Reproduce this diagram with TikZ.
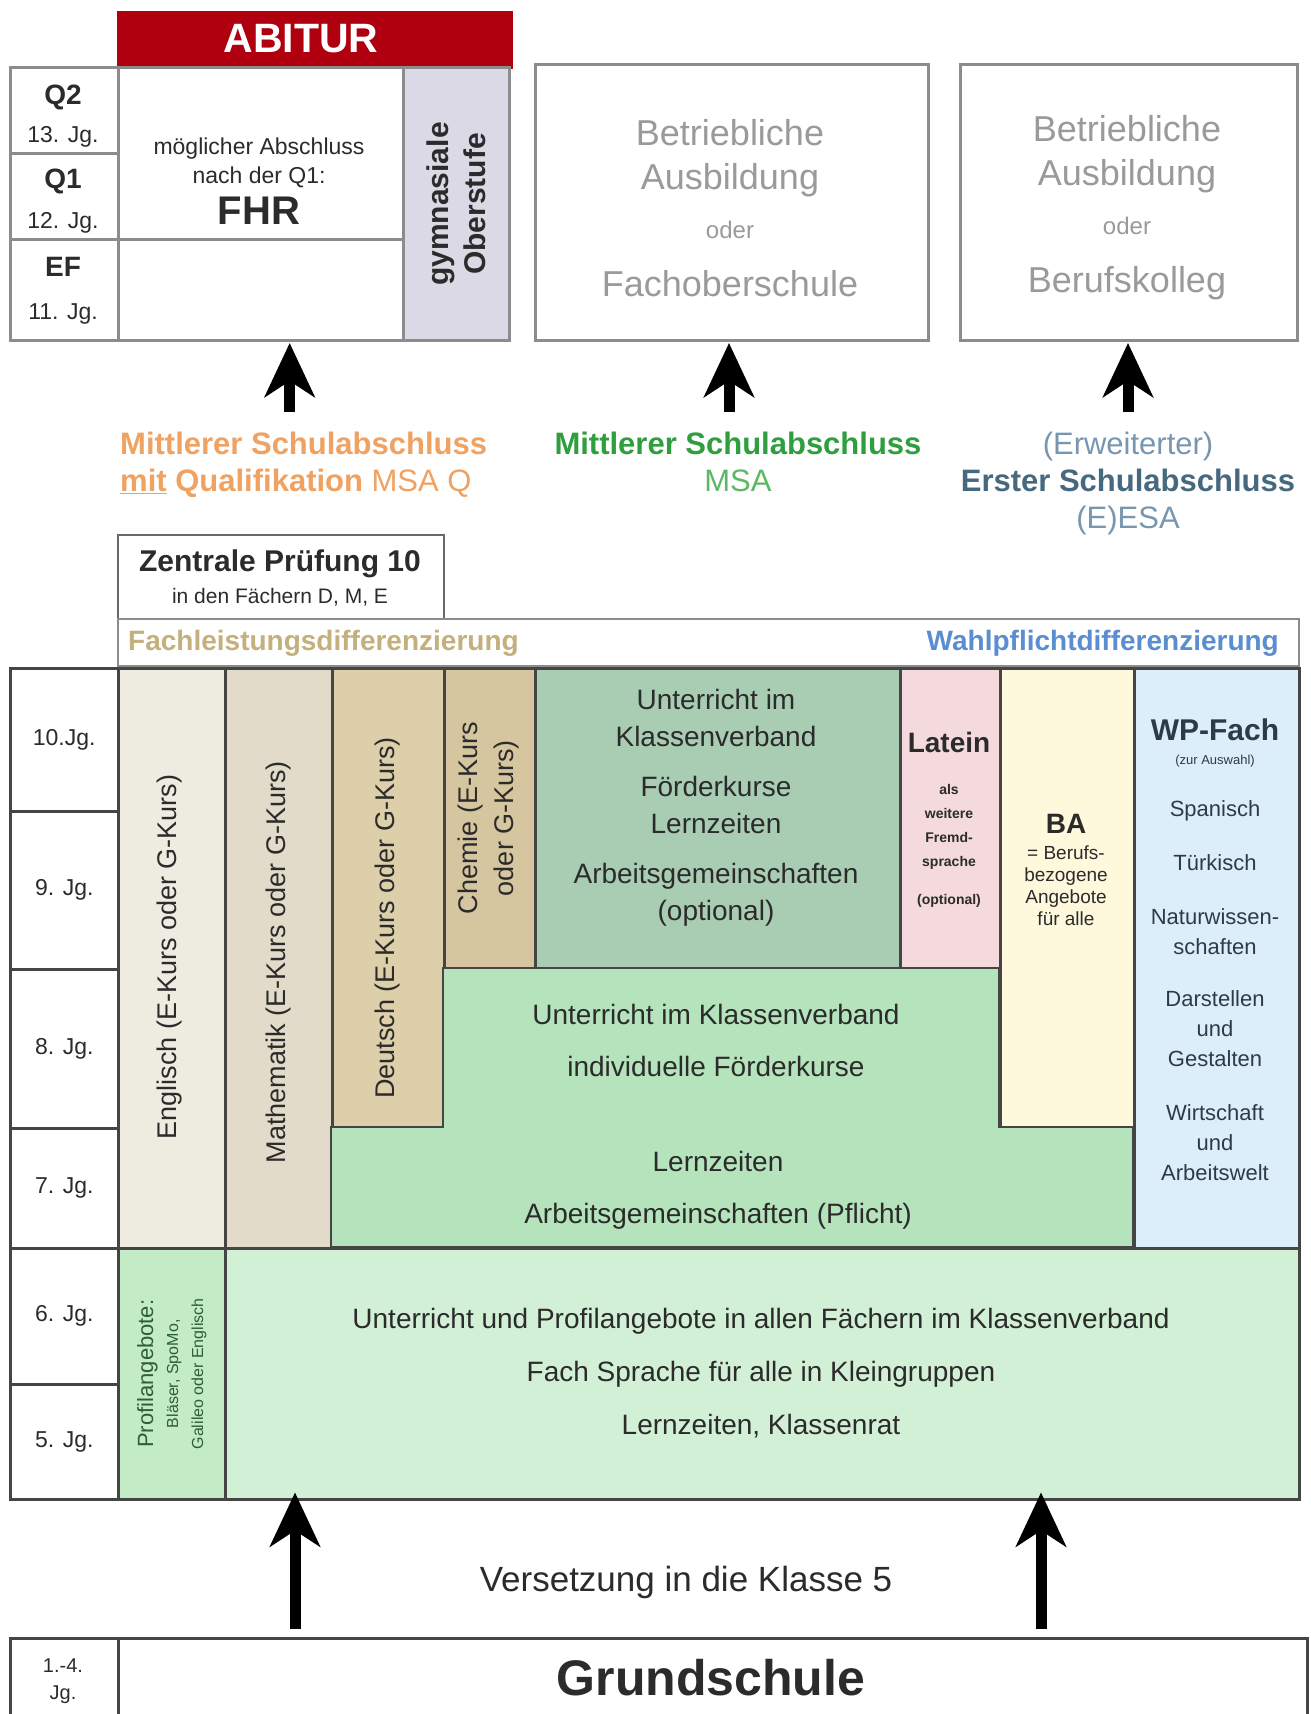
\documentclass[tikz,border=0pt]{standalone}
\usepackage{fontspec}
\setmainfont{Liberation Sans}
\usetikzlibrary{arrows.meta}

\definecolor{abired}{HTML}{B00010}
\definecolor{oberlila}{HTML}{DCD9E6}
\definecolor{englfill}{HTML}{EEEBE1}
\definecolor{mathfill}{HTML}{E2DBC9}
\definecolor{deutfill}{HTML}{DCCFA9}
\definecolor{chemfill}{HTML}{D6C69F}
\definecolor{klassfill}{HTML}{A8CDB3}
\definecolor{latfill}{HTML}{F4DADC}
\definecolor{bafill}{HTML}{FEF8DC}
\definecolor{wpfill}{HTML}{DDEEFB}
\definecolor{lgreen}{HTML}{B5E4BC}
\definecolor{pgreen}{HTML}{D2F0D5}
\definecolor{profgreen}{HTML}{C2EBC6}
\definecolor{msaorange}{HTML}{EFA262}
\definecolor{msagreen}{HTML}{2F9E3F}
\definecolor{msagreenlt}{HTML}{5DB865}
\definecolor{esablue}{HTML}{46697F}
\definecolor{esabluelt}{HTML}{7896B0}
\definecolor{fachtan}{HTML}{C3B07C}
\definecolor{wahlblue}{HTML}{5A8ED0}
\definecolor{gridgray}{HTML}{454545}
\definecolor{boxgray}{HTML}{8C8C8C}
\definecolor{textgray}{HTML}{9A9A9A}
\definecolor{darktext}{HTML}{2B2B2B}
\definecolor{wptext}{HTML}{2E3B46}
\definecolor{proftext}{HTML}{2D5E35}

\begin{document}
\begin{tikzpicture}[
    x=1pt, y=-1pt,
    cell/.style={
        rectangle,
        draw=gridgray,
        line width=2.5pt,
        anchor=north west,
        inner sep=0pt
    },
    topcell/.style={cell, draw=boxgray, line width=3pt},
    frame/.style={draw=gridgray, line width=2.5pt},
    txt/.style={
        align=center,
        inner sep=0pt,
        text=darktext,
        font=\fontsize{28}{36}\selectfont
    },
    gradetxt/.style={txt, font=\fontsize{23}{28}\selectfont},
    greytxt/.style={txt, text=textgray, font=\fontsize{36}{44}\selectfont},
    labeltxt/.style={txt, font=\fontsize{31}{37}\selectfont},
    bigarrow/.style={-{Stealth[length=54pt, width=50pt, inset=16pt]}, line width=11pt, draw=black}
]

    \useasboundingbox (0,0) rectangle (1311,1714);
    \clip (0,0) rectangle (1311,1714);
    \fill[white] (0,0) rectangle (1311,1714);

    % --- OBERSTUFE ---
    \node[topcell, draw=abired, fill=abired, minimum width=393, minimum height=55] (abitur) at (117,11) {};
    \node[txt, text=white, font=\bfseries\fontsize{41}{41}\selectfont] (abiturtxt) at (301,39) {ABITUR};

    \node[topcell, minimum width=108, minimum height=86] (q2) at (9,66) {};
    \node[topcell, minimum width=108, minimum height=86] (q1) at (9,152) {};
    \node[topcell, minimum width=108, minimum height=101] (ef) at (9,238) {};
    \node[gradetxt] (q2txt) at (63,116) {{\bfseries\fontsize{28}{28}\selectfont Q2}\\[10pt]13. Jg.};
    \node[gradetxt] (q1txt) at (63,201) {{\bfseries\fontsize{28}{28}\selectfont Q1}\\[12pt]12. Jg.};
    \node[gradetxt] (eftxt) at (63,291) {{\bfseries\fontsize{28}{28}\selectfont EF}\\[15pt]11. Jg.};

    \node[topcell, minimum width=285, minimum height=172] (fhr) at (117,66) {};
    \node[topcell, minimum width=285, minimum height=101] (efbox) at (117,238) {};
    \node[topcell, fill=oberlila, minimum width=106, minimum height=273] (ober) at (402,66) {};
    \node[txt, font=\fontsize{23}{29}\selectfont] (fhrtxt) at (259,181) {möglicher Abschluss\\nach der Q1:\\[8pt]{\bfseries\fontsize{40}{40}\selectfont FHR}};
    \node[txt, rotate=90, font=\bfseries\fontsize{30}{37}\selectfont] (obertxt) at (ober.center) {gymnasiale\\Oberstufe};

    % --- AUSBILDUNG ---
    \node[topcell, minimum width=393, minimum height=276] (ausb1) at (534,63) {};
    \node[greytxt] (ausb1txt) at (730,208) {Betriebliche\\Ausbildung\\[5pt]{\fontsize{24}{24}\selectfont oder}\\[14pt]Fachoberschule};
    \node[topcell, minimum width=337, minimum height=276] (ausb2) at (959,63) {};
    \node[greytxt] (ausb2txt) at (1127,208) {Betriebliche\\Ausbildung\\[5pt]{\fontsize{24}{24}\selectfont oder}\\[14pt]Berufskolleg};

    % --- ABSCHLUESSE ---
    \node[labeltxt, text=msaorange, align=left, anchor=north west] (msaq) at (120,432)
        {\textbf{Mittlerer Schulabschluss}\\\textbf{\underline{mit} Qualifikation} MSA Q};
    \node[labeltxt, text=msagreen, anchor=north] (msa) at (738,432)
        {\textbf{Mittlerer Schulabschluss}\\{\color{msagreenlt}MSA}};
    \node[labeltxt, text=esablue, anchor=north] (esa) at (1128,432)
        {{\color{esabluelt}(Erweiterter)}\\\textbf{Erster Schulabschluss}\\{\color{esabluelt}(E)ESA}};

    \coordinate (arr1) at ([xshift=-14pt]msaq.north);
    \coordinate (arr2) at ([xshift=-9pt]msa.north);
    \coordinate (arr3) at (esa.north);
    \draw[bigarrow, shorten <=20pt, shorten >=1pt] (arr1) -- (arr1 |- efbox.south);
    \draw[bigarrow, shorten <=20pt, shorten >=1pt] (arr2) -- (arr2 |- ausb1.south);
    \draw[bigarrow, shorten <=20pt, shorten >=1pt] (arr3) -- (arr3 |- ausb2.south);

    % --- ZENTRALE PRUEFUNG + DIFFERENZIERUNG ---
    \node[cell, draw=gridgray!80, line width=2pt, minimum width=326, minimum height=84] (zp) at (117,534) {};
    \node[txt, font=\fontsize{21}{32}\selectfont] (zptxt) at (280,578) {{\bfseries\fontsize{30}{30}\selectfont Zentrale Prüfung 10}\\in den Fächern D, M, E};
    \node[cell, draw=boxgray, line width=2pt, minimum width=1181, minimum height=47] (diff) at (117,618) {};
    \node[txt, text=fachtan, font=\bfseries\fontsize{28}{28}\selectfont, anchor=west] (fachtxt) at (128,643) {Fachleistungsdifferenzierung};
    \node[txt, text=wahlblue, font=\bfseries\fontsize{28}{28}\selectfont, anchor=east] (wahltxt) at (1279,643) {Wahlpflichtdifferenzierung};

    % --- JAHRGAENGE 5-10 ---
    \node[cell, minimum width=108, minimum height=143] (jg10) at (9,667) {};
    \node[cell, minimum width=108, minimum height=158] (jg9) at (9,810) {};
    \node[cell, minimum width=108, minimum height=159] (jg8) at (9,968) {};
    \node[cell, minimum width=108, minimum height=120] (jg7) at (9,1127) {};
    \node[cell, minimum width=108, minimum height=136] (jg6) at (9,1247) {};
    \node[cell, minimum width=108, minimum height=115] (jg5) at (9,1383) {};
    \node[gradetxt] (jg10txt) at (jg10.center) {10.Jg.};
    \node[gradetxt] (jg9txt) at (jg9.center) {9. Jg.};
    \node[gradetxt] (jg8txt) at (jg8.center) {8. Jg.};
    \node[gradetxt] (jg7txt) at (jg7.center) {7. Jg.};
    \node[gradetxt] (jg6txt) at (jg6.center) {6. Jg.};
    \node[gradetxt] (jg5txt) at (jg5.center) {5. Jg.};

    % Kurse
    \node[cell, fill=englfill, minimum width=107, minimum height=580] (engl) at (117,667) {};
    \node[cell, fill=mathfill, minimum width=107, minimum height=580] (mathe) at (224,667) {};
    \node[cell, fill=deutfill, minimum width=112, minimum height=460] (deut) at (331,667) {};
    \node[cell, fill=chemfill, minimum width=91, minimum height=301] (chem) at (443,667) {};
    \node[cell, fill=klassfill, minimum width=365, minimum height=301] (klass) at (534,667) {};
    \node[cell, fill=latfill, minimum width=100, minimum height=301] (latein) at (899,667) {};
    \node[cell, fill=bafill, minimum width=134, minimum height=460] (ba) at (999,667) {};
    \node[cell, fill=wpfill, minimum width=165, minimum height=580] (wp) at (1133,667) {};

    % Klassenverband 7/8
    \draw[frame, fill=lgreen] (443,968) -- (999,968) -- (999,1127) -- (1133,1127)
        -- (1133,1247) -- (331,1247) -- (331,1127) -- (443,1127) -- cycle;

    \node[txt, rotate=90, font=\fontsize{27}{34}\selectfont] (engltxt) at (170,957) {Englisch (E-Kurs oder G-Kurs)};
    \node[txt, rotate=90, font=\fontsize{27}{34}\selectfont] (mathetxt) at (279,962) {Mathematik (E-Kurs oder G-Kurs)};
    \node[txt, rotate=90, font=\fontsize{27}{34}\selectfont] (deuttxt) at (388,918) {Deutsch (E-Kurs oder G-Kurs)};
    \node[txt, rotate=90, font=\fontsize{27}{36}\selectfont] (chemtxt) at (489,818) {Chemie (E-Kurs\\oder G-Kurs)};
    \node[txt, font=\fontsize{28}{37}\selectfont] (klasstxt) at (716,808)
        {Unterricht im\\Klassenverband\\[13pt]Förderkurse\\Lernzeiten\\[13pt]Arbeitsgemeinschaften\\(optional)};
    \node[txt, font=\bfseries\fontsize{14}{24}\selectfont] (lateintxt) at (949,820)
        {{\fontsize{28}{28}\selectfont Latein}\\[18pt]als\\weitere\\Fremd-\\sprache\\[14pt](optional)};
    \node[txt, font=\fontsize{19}{22}\selectfont] (batxt) at (1066,870)
        {{\bfseries\fontsize{28}{28}\selectfont BA}\\[4pt]= Berufs-\\bezogene\\Angebote\\für alle};
    \node[txt, text=wptext, font=\fontsize{22}{30}\selectfont] (wptxt) at (1215,950)
        {{\bfseries\fontsize{30}{30}\selectfont WP-Fach}\\[-6pt]{\fontsize{13}{13}\selectfont (zur Auswahl)}\\[22pt]Spanisch\\[24pt]Türkisch\\[24pt]Naturwissen-\\schaften\\[22pt]Darstellen\\und\\Gestalten\\[24pt]Wirtschaft\\und\\Arbeitswelt};
    \node[txt, font=\fontsize{28}{52}\selectfont] (ltxt1) at (716,1040) {Unterricht im Klassenverband\\individuelle Förderkurse};
    \node[txt, font=\fontsize{28}{52}\selectfont] (ltxt2) at (718,1190) {Lernzeiten\\Arbeitsgemeinschaften (Pflicht)};

    % --- JAHRGAENGE 5-6 ---
    \node[cell, fill=profgreen, minimum width=107, minimum height=251] (profil) at (117,1247) {};
    \node[cell, fill=pgreen, minimum width=1074, minimum height=251] (basis) at (224,1247) {};
    \node[txt, rotate=90, text=proftext, font=\fontsize{16}{25}\selectfont] (profiltxt) at (profil.center)
        {{\fontsize{22}{22}\selectfont Profilangebote:}\\Bläser, SpoMo,\\Galileo oder Englisch};
    \node[txt, font=\fontsize{28}{53}\selectfont] (basistxt) at (761,1373)
        {Unterricht und Profilangebote in allen Fächern im Klassenverband\\Fach Sprache für alle in Kleingruppen\\Lernzeiten, Klassenrat};

    % --- GRUNDSCHULE ---
    \node[cell, minimum width=108, minimum height=110] (jg14) at (9,1637) {};
    \node[cell, minimum width=1189, minimum height=110] (gs) at (117,1637) {};
    \node[gradetxt, font=\fontsize{20}{27}\selectfont] (jg14txt) at (63,1681) {1.-4.\\Jg.};
    \node[txt, font=\bfseries\fontsize{50}{50}\selectfont] (gstxt) at (711,1678) {Grundschule};
    \node[txt, font=\fontsize{35}{35}\selectfont] (versetzung) at (686,1582) {Versetzung in die Klasse 5};

    \coordinate (up1) at (295,1629);
    \coordinate (up2) at (1041,1629);
    \draw[bigarrow, shorten >=-8pt] (up1) -- (up1 |- basis.south);
    \draw[bigarrow, shorten >=-8pt] (up2) -- (up2 |- basis.south);

\end{tikzpicture}
\end{document}
